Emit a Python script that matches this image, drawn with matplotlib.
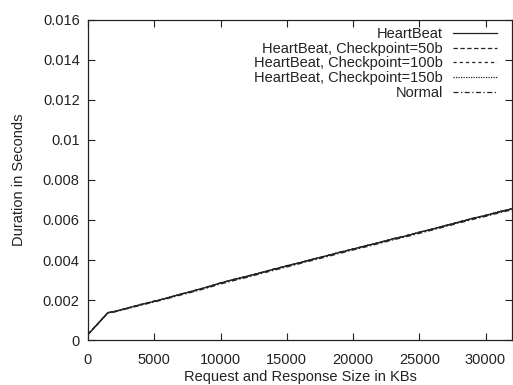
import matplotlib
matplotlib.use("Agg")
import matplotlib.pyplot as plt

plt.rcParams['font.family'] = ['Liberation Sans', 'DejaVu Sans']

# Request/response size (KB)
sizes = [0, 500, 1000, 1500, 2000, 3000, 4000, 5000, 6000, 7000, 8000, 9000,
         10000, 11000, 12000, 13000, 14000, 15000, 16000, 17000, 18000, 19000,
         20000, 21000, 22000, 23000, 24000, 25000, 26000, 27000, 28000, 29000,
         30000, 31000, 32000]

heartbeat = [0.00028, 0.00064, 0.00100, 0.00137, 0.00142, 0.00160, 0.00177, 0.00193,
             0.00211, 0.00229, 0.00246, 0.00265, 0.00285, 0.00302, 0.00318, 0.00336,
             0.00353, 0.00370, 0.00387, 0.00404, 0.00421, 0.00438, 0.00455, 0.00471,
             0.00488, 0.00505, 0.00521, 0.00538, 0.00555, 0.00572, 0.00590, 0.00607,
             0.00623, 0.00640, 0.00656]
hb_cp50 = [0.00028, 0.00065, 0.00101, 0.00136, 0.00143, 0.00159, 0.00178, 0.00194,
           0.00210, 0.00230, 0.00245, 0.00266, 0.00284, 0.00303, 0.00319, 0.00335,
           0.00354, 0.00371, 0.00386, 0.00405, 0.00420, 0.00439, 0.00454, 0.00472,
           0.00487, 0.00506, 0.00520, 0.00539, 0.00554, 0.00573, 0.00589, 0.00608,
           0.00622, 0.00641, 0.00655]
hb_cp100 = [0.00029, 0.00064, 0.00100, 0.00138, 0.00141, 0.00161, 0.00176, 0.00195,
            0.00209, 0.00229, 0.00247, 0.00264, 0.00286, 0.00301, 0.00320, 0.00334,
            0.00355, 0.00369, 0.00388, 0.00403, 0.00422, 0.00437, 0.00456, 0.00470,
            0.00489, 0.00504, 0.00522, 0.00537, 0.00556, 0.00571, 0.00591, 0.00606,
            0.00624, 0.00639, 0.00657]
hb_cp150 = [0.00028, 0.00063, 0.00099, 0.00137, 0.00143, 0.00160, 0.00179, 0.00192,
            0.00212, 0.00228, 0.00248, 0.00263, 0.00285, 0.00304, 0.00317, 0.00337,
            0.00352, 0.00372, 0.00386, 0.00406, 0.00420, 0.00440, 0.00453, 0.00473,
            0.00486, 0.00507, 0.00519, 0.00540, 0.00553, 0.00574, 0.00588, 0.00609,
            0.00621, 0.00642, 0.00655]
normal = [0.00027, 0.00063, 0.00099, 0.00135, 0.00140, 0.00157, 0.00174, 0.00190,
          0.00207, 0.00225, 0.00242, 0.00260, 0.00280, 0.00297, 0.00313, 0.00331,
          0.00348, 0.00365, 0.00382, 0.00399, 0.00416, 0.00433, 0.00450, 0.00466,
          0.00483, 0.00500, 0.00516, 0.00533, 0.00550, 0.00567, 0.00585, 0.00602,
          0.00618, 0.00635, 0.00651]

labels = ["HeartBeat", "HeartBeat, Checkpoint=50b", "HeartBeat, Checkpoint=100b",
          "HeartBeat, Checkpoint=150b", "Normal"]
xticks = [0, 5000, 10000, 15000, 20000, 25000, 30000]
yticks = [0, 0.002, 0.004, 0.006, 0.008, 0.01, 0.012, 0.014, 0.016]
yticklabels = ["0", "0.002", "0.004", "0.006", "0.008", "0.01", "0.012", "0.014", "0.016"]

fig = plt.figure(figsize=(5.13, 3.85), dpi=100)
ax = fig.add_axes([88/513, 45/385, (512-88)/513, 320/385])

styles = ['-', (0, (3.5, 2)), (0, (2.5, 2.5)), (0, (1, 1)), (0, (4, 2, 1, 2))]
series = [heartbeat, hb_cp50, hb_cp100, hb_cp150, normal]
for s, ls, lab in zip(series, styles, labels):
    ax.plot(sizes, s, color='#222222', lw=0.9, ls=ls, label=lab)

ax.set_xlim(0, 32000)
ax.set_ylim(0, 0.016)
ax.set_xticks(xticks)
ax.set_xticklabels([str(t) for t in xticks])
ax.set_yticks(yticks)
ax.set_yticklabels(yticklabels)
ax.tick_params(direction='in', length=5, width=0.8, top=True, right=True,
               labelsize=10.5, colors='#222222')
ax.tick_params(axis='x', pad=9)
ax.tick_params(axis='y', pad=6)
for sp in ax.spines.values():
    sp.set_linewidth(0.9)
    sp.set_color('#222222')

ax.set_xlabel("Request and Response Size in KBs", fontsize=10.5, labelpad=2.5, color='#222222')
ax.set_ylabel("Duration in Seconds", fontsize=10.5, labelpad=12, color='#222222')

leg = ax.legend(loc='upper right', bbox_to_anchor=(497/513, 1 - 27/385),
                bbox_transform=fig.transFigure, frameon=False, markerfirst=False,
                fontsize=10.5, handlelength=3.0, handletextpad=0.7,
                labelspacing=0.05, borderpad=0, borderaxespad=0)
for t in leg.get_texts():
    t.set_ha('right')
    t.set_color('#222222')

fig.savefig("out.png", dpi=100)
